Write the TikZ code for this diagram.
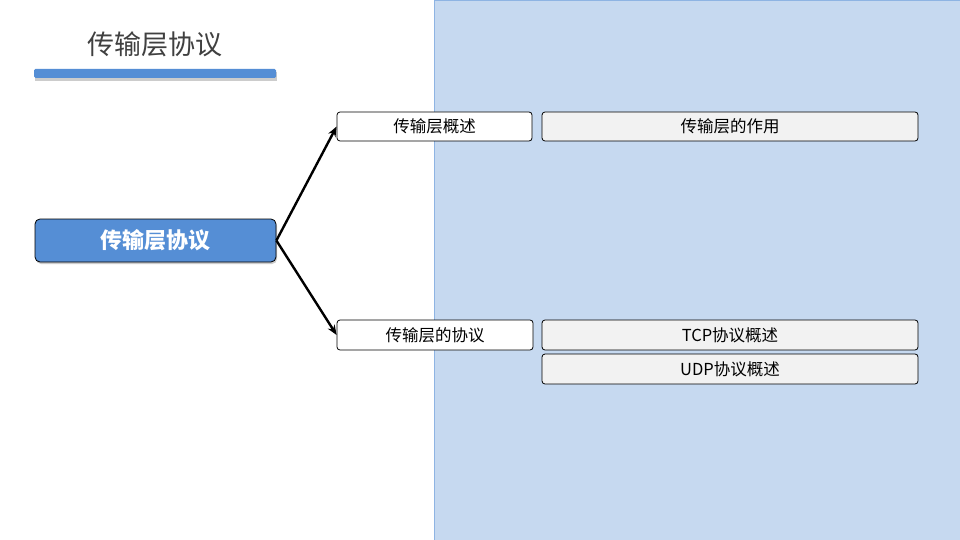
\documentclass[tikz,border=0pt]{standalone}
\usepackage{fontspec}
\setmainfont{Noto Sans CJK SC}
\usetikzlibrary{arrows.meta,shadows}
\definecolor{panel}{RGB}{198,217,240}
\definecolor{panelborder}{RGB}{142,180,227}
\definecolor{mainblue}{RGB}{85,142,213}
\definecolor{boxgray}{RGB}{242,242,242}
\definecolor{titlegray}{RGB}{64,64,64}
\tikzset{
  leafbox/.style={draw=black, rounded corners=3pt, line width=0.8pt, fill=white, inner sep=0pt, font=\fontsize{16.5}{18}\selectfont, text=black},
  subbox/.style={leafbox, fill=boxgray},
  mainbox/.style={draw=black, rounded corners=5pt, line width=0.8pt, fill=mainblue, inner sep=0pt, text=white, font=\bfseries\fontsize{22}{24}\selectfont, drop shadow={shadow xshift=1pt, shadow yshift=-2pt, opacity=0.4}},
  conn/.style={line width=2.4pt, -{Stealth[length=10pt,width=8pt]}}
}
\begin{document}
\begin{tikzpicture}[x=1pt,y=-1pt]
\useasboundingbox (0,0) rectangle (960,540);
\fill[white] (0,0) rectangle (960,540);
\draw[fill=panel, draw=panelborder, line width=0.8pt] (434.5,0) rectangle (960,540);
\node[text=titlegray, font=\fontsize{27}{30}\selectfont] (title) at (155,44) {传输层协议};
\fill[black, opacity=0.2] (35,72) rectangle (277,81);
\fill[mainblue, rounded corners=1.5pt] (34,69) rectangle (276,78);
\node[mainbox, minimum width=241pt, minimum height=43pt] (main) at (155.5,240.5) {传输层协议};
\node[leafbox, minimum width=195pt, minimum height=29pt] (a) at (434.5,126.5) {传输层概述};
\node[subbox, minimum width=376pt, minimum height=29pt] (a1) at (730,126.5) {传输层的作用};
\node[leafbox, minimum width=196pt, minimum height=30pt] (b) at (435,335) {传输层的协议};
\node[subbox, minimum width=376pt, minimum height=30pt] (b1) at (730,335) {TCP协议概述};
\node[subbox, minimum width=376pt, minimum height=30pt] (b2) at (730,369) {UDP协议概述};
\draw[conn] (main.east) -- (a.west);
\draw[conn] (main.east) -- (b.west);
\end{tikzpicture}
\end{document}
